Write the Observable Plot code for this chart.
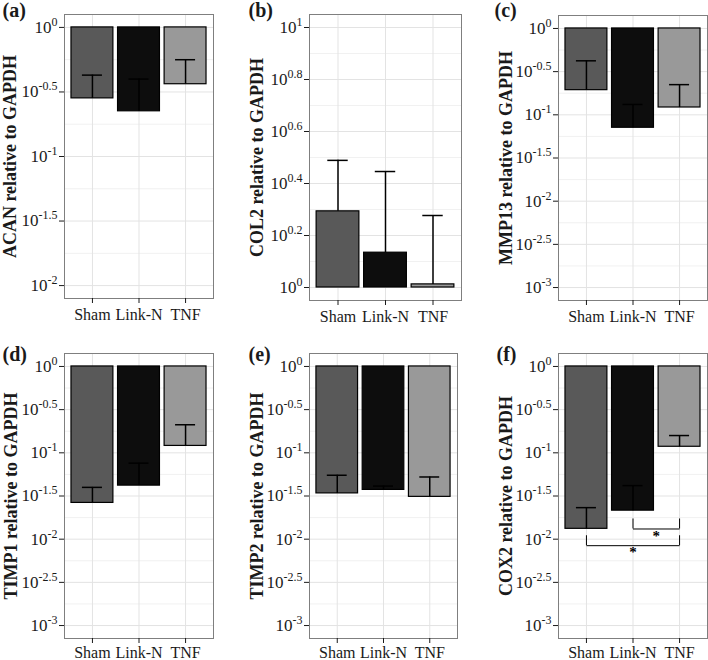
<!DOCTYPE html>
<html><head><meta charset="utf-8">
<script src="https://cdn.jsdelivr.net/npm/d3@7"></script>
<script src="https://cdn.jsdelivr.net/npm/@observablehq/plot@0.6"></script>
<style>
body{margin:0;background:#fff;}
#fig{position:relative;width:708px;height:660px;overflow:hidden;background:#fff;}
.panel{position:absolute;width:236px;height:330px;}
</style></head><body><div id="fig"></div>
<script>
const groups = ["Sham", "Link-N", "TNF"];
const groupFill = ["#595959", "#0d0d0d", "#999999"];

// mean and standard error (ratio relative to GAPDH)
const acanMean = [0.282, 0.224, 0.363];
const acanSE = [0.145, 0.174, 0.199];
const col2Mean = [1.963, 1.361, 1.028];
const col2SE = [1.120, 1.432, 0.864];
const mmp13Mean = [0.193, 0.0708, 0.1216];
const mmp13SE = [0.229, 0.061, 0.102];
const timp1Mean = [0.0263, 0.0417, 0.1202];
const timp1SE = [0.0135, 0.0342, 0.0911];
const timp2Mean = [0.0339, 0.0372, 0.0309];
const timp2SE = [0.0211, 0.0040, 0.0216];
const cox2Mean = [0.01318, 0.0214, 0.1175];
const cox2SE = [0.0100, 0.0203, 0.041];

// y tick exponents (labels 10^k)
const ticksA = [0, -0.5, -1, -1.5, -2];
const ticksB = [0, 0.2, 0.4, 0.6, 0.8, 1];
const ticks3 = [0, -0.5, -1, -1.5, -2, -2.5, -3];

// significance brackets in panel (f)
const sigFrom = ["Link-N", "Sham"];
const sigTo = ["TNF", "TNF"];
const sigTickTop = [0.01714, 0.01096];
const sigLine = [0.01312, 0.00841];
const sigLabel = ["*", "*"];

const panels = [
  {letter: "(a)", title: "ACAN relative to GAPDH", mean: acanMean, se: acanSE, ticks: ticksA,
   left: 0, top: 0, ml: 64, mr: 23, mt: 14, mb: 32, titleX: 10, letterX: 2, letterY: 2.5, xPad: 5},
  {letter: "(b)", title: "COL2 relative to GAPDH", mean: col2Mean, se: col2SE, ticks: ticksB,
   left: 236, top: 0, ml: 73, mr: 11, mt: 14, mb: 30, titleX: 21, letterX: 12, letterY: 2.5, xPad: 5},
  {letter: "(c)", title: "MMP13 relative to GAPDH", mean: mmp13Mean, se: mmp13SE, ticks: ticks3,
   left: 472, top: 0, ml: 86, mr: 1, mt: 15, mb: 30, titleX: 34, letterX: 22, letterY: 2.5, xPad: 5},
  {letter: "(d)", title: "TIMP1 relative to GAPDH", mean: timp1Mean, se: timp1SE, ticks: ticks3,
   left: 0, top: 330, ml: 64, mr: 23, mt: 23, mb: 22, titleX: 11, letterX: 2, letterY: 16, xPad: 3},
  {letter: "(e)", title: "TIMP2 relative to GAPDH", mean: timp2Mean, se: timp2SE, ticks: ticks3,
   left: 236, top: 330, ml: 73, mr: 15, mt: 23, mb: 22, titleX: 21, letterX: 12, letterY: 16, xPad: 3},
  {letter: "(f)", title: "COX2 relative to GAPDH", mean: cox2Mean, se: cox2SE, ticks: ticks3,
   left: 472, top: 330, ml: 86, mr: 1, mt: 23, mb: 22, titleX: 34, letterX: 24, letterY: 16, xPad: 3, sig: true}
];

const fmtExp = (d) => "10^" + String(Math.round(Math.log10(d) * 100) / 100);

function superscriptTicks(svg) {
  const ns = "http://www.w3.org/2000/svg";
  svg.querySelectorAll("text").forEach((t) => {
    const s = t.textContent;
    if (!s.includes("^")) return;
    const [b, e] = s.split("^");
    t.textContent = "";
    const t1 = document.createElementNS(ns, "tspan");
    t1.textContent = b;
    const t2 = document.createElementNS(ns, "tspan");
    t2.textContent = e;
    t2.setAttribute("dy", "-7");
    t2.setAttribute("font-size", "12");
    t.append(t1, t2);
  });
}

const fig = document.getElementById("fig");

for (const cfg of panels) {
  const data = groups.map((g, i) => ({g, x: i + 1, mean: cfg.mean[i], top: cfg.mean[i] + cfg.se[i], fill: groupFill[i]}));
  const lo = Math.min(...cfg.ticks), hi = Math.max(...cfg.ticks), pad = (hi - lo) * 0.05;
  const major = cfg.ticks.map((e) => 10 ** e);
  const minor = cfg.ticks.slice(1).map((t, k) => 10 ** ((t + cfg.ticks[k]) / 2));
  const marks = [
    Plot.ruleY(minor, {stroke: "#f1f1f1", strokeWidth: 1}),
    Plot.ruleY(major, {stroke: "#e3e3e3", strokeWidth: 1}),
    Plot.ruleX([1, 2, 3], {stroke: "#e3e3e3", strokeWidth: 1}),
    Plot.rect(data, {x1: (d) => d.x - 0.45, x2: (d) => d.x + 0.45, y1: 1, y2: "mean", fill: "fill", stroke: "black", strokeWidth: 1.2}),
    Plot.ruleX(data, {x: "x", y1: "mean", y2: "top", stroke: "black", strokeWidth: 1.5}),
    Plot.ruleY(data, {y: "top", x1: (d) => d.x - 0.215, x2: (d) => d.x + 0.215, stroke: "black", strokeWidth: 1.5}),
    Plot.frame({stroke: "#7f7f7f", strokeWidth: 1}),
    Plot.axisY({ticks: major, tickFormat: fmtExp, tickSize: 5, tickPadding: 2, fontSize: 17, label: null}),
    Plot.axisX({ticks: [1, 2, 3], tickFormat: (d) => groups[d - 1], tickSize: 5, tickPadding: cfg.xPad, fontSize: 16, label: null}),
    Plot.text([cfg.title], {frameAnchor: "left", rotate: -90, dx: cfg.titleX - cfg.ml, textAnchor: "middle", lineAnchor: "middle", fontSize: 18, fontWeight: "bold", text: (d) => d}),
    Plot.text([cfg.letter], {frameAnchor: "top-left", dx: cfg.letterX - cfg.ml, dy: cfg.letterY - cfg.mt, textAnchor: "start", lineAnchor: "top", fontSize: 20, fontWeight: "bold", text: (d) => d})
  ];
  if (cfg.sig) {
    const sig = sigFrom.map((f, k) => ({
      a: groups.indexOf(f) + 1, b: groups.indexOf(sigTo[k]) + 1,
      tickTop: sigTickTop[k], line: sigLine[k], label: sigLabel[k]
    }));
    marks.push(
      Plot.link(sig, {x1: "a", x2: "b", y1: "line", y2: "line", stroke: "black", strokeWidth: 1}),
      Plot.ruleX(sig, {x: "a", y1: "tickTop", y2: "line", stroke: "black", strokeWidth: 1}),
      Plot.ruleX(sig, {x: "b", y1: "tickTop", y2: "line", stroke: "black", strokeWidth: 1}),
      Plot.text(sig, {x: (d) => (d.a + d.b) / 2, y: "line", text: "label", lineAnchor: "top", dy: 1, fill: "black", fontSize: 15, fontWeight: "bold"})
    );
  }
  const svg = Plot.plot({
    width: 236, height: 330,
    marginLeft: cfg.ml, marginRight: cfg.mr, marginTop: cfg.mt, marginBottom: cfg.mb,
    x: {domain: [0.4, 3.6]},
    y: {type: "log", domain: [10 ** (lo - pad), 10 ** (hi + pad)]},
    color: {type: "identity"},
    style: {fontFamily: "'Liberation Serif', 'Times New Roman', serif", background: "transparent", color: "#1a1a1a", overflow: "visible"},
    marks
  });
  superscriptTicks(svg);
  const div = document.createElement("div");
  div.className = "panel";
  div.style.left = cfg.left + "px";
  div.style.top = cfg.top + "px";
  div.append(svg);
  fig.append(div);
}
</script></body></html>
